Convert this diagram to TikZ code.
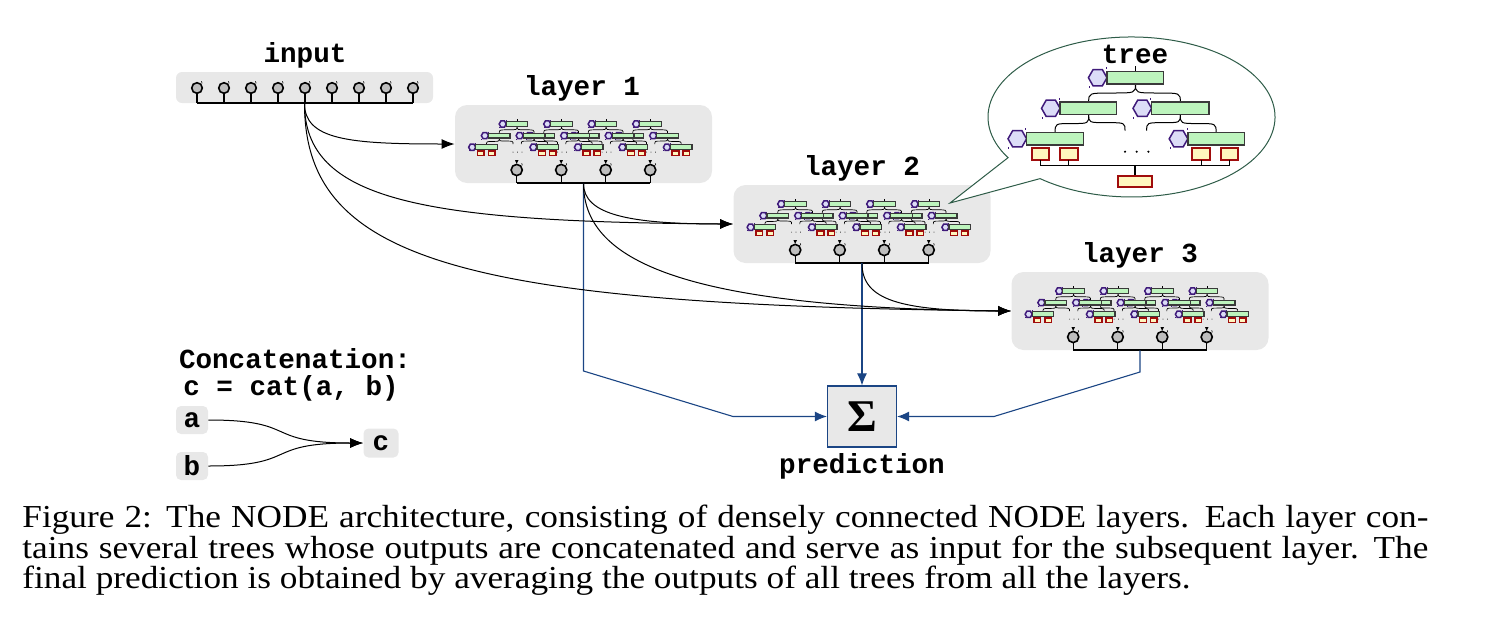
\documentclass[tikz,border=0pt]{standalone}
\usepackage{fontspec}
\setmainfont{Liberation Serif}
\newfontfamily\cour{Liberation Mono}
\usepackage{graphicx}
\usetikzlibrary{arrows.meta}
\definecolor{boxgray}{HTML}{E8E8E8}
\definecolor{hexpurple}{HTML}{3F1A7A}
\definecolor{hexfill}{HTML}{DCDCF7}
\definecolor{bargreen}{HTML}{BDF4BD}
\definecolor{barline}{HTML}{3A3A3A}
\definecolor{leafred}{HTML}{A00C0C}
\definecolor{leaffill}{HTML}{FFF6BE}
\definecolor{sumblue}{HTML}{1B4584}
\definecolor{bubblegreen}{HTML}{2E5C48}
\definecolor{circgray}{HTML}{BEBEBE}
\tikzset{
 lbl/.style={font=\cour\bfseries\fontsize{13.8}{14}\selectfont, inner sep=0pt},
 graybox/.style={fill=boxgray, inner sep=0pt},
 layerbox/.style={graybox, rounded corners=6pt, minimum width=128.5pt, minimum height=39pt},
 smallbox/.style={graybox, rounded corners=2.5pt, font=\cour\bfseries\fontsize{13.8}{14}\selectfont},
 conn/.style={black, line width=0.5pt, -{Latex[length=6.5pt,width=5pt]}},
 sumconn/.style={sumblue, line width=0.55pt, -{Latex[length=6pt,width=5pt]}},
 hexst/.style={draw=hexpurple, fill=hexfill, line width=0.75pt},
 barst/.style={draw=barline, fill=bargreen, line width=0.75pt},
 leafst/.style={draw=leafred, fill=leaffill, line width=0.85pt},
 bracest/.style={black, line width=0.5pt},
 busst/.style={black, line width=0.6pt},
 tickst/.style={hexpurple, line width=0.4pt},
 unitc/.style={draw=black, fill=circgray, line width=0.8pt},
 wire/.style={black, line width=0.55pt},
 ministyle/.style={
   hexst/.style={draw=hexpurple, fill=hexfill, line width=0.75pt},
   barst/.style={draw=barline, fill=bargreen, line width=0.6pt},
   leafst/.style={draw=leafred, fill=leaffill, line width=0.7pt},
   bracest/.style={black, line width=0.35pt},
   tickst/.style={hexpurple, line width=0.25pt}},
}
\newcommand\hexn[2]{%
 \draw[hexst] ({#1-9.3},{#2}) -- ({#1-4.65},{#2-8.1}) -- ({#1+4.65},{#2-8.1}) -- ({#1+9.3},{#2}) -- ({#1+4.65},{#2+8.1}) -- ({#1-4.65},{#2+8.1}) -- cycle;
 \draw[tickst] ({#1+8.5},{#2-10.5}) -- ({#1+8.5},{#2-8.5}) ({#1-8.5},{#2+8.5}) -- ({#1-8.5},{#2+10.5});}
\newcommand\brc[4]{\draw[bracest] (#1,#2) .. controls (#1,{(#2+#4)/2}) .. ({(#1+#3)/2},{(#2+#4)/2}) .. controls (#3,{(#2+#4)/2}) .. (#3,#4);}
\newcommand\treecore{%
 \brc{37.8}{6.3}{-9}{24.3}
 \brc{37.8}{6.3}{82.6}{24.3}
 \brc{-9}{36.9}{27.3}{53}
 \brc{82.6}{36.9}{49}{53}
 \brc{82.6}{36.9}{118.4}{54.8}
 \draw[bracest] (37.8,-6.3) -- (37.8,-12);
 \hexn{0}{0} \draw[barst] (9.3,-6.3) rectangle (65.6,6.3);
 \hexn{-46.9}{30.6} \draw[barst] (-37.6,24.3) rectangle (19,36.9);
 \hexn{44.6}{30.6} \draw[barst] (53.9,24.3) rectangle (111.3,36.9);
 \hexn{80.8}{61.1} \draw[barst] (90.1,54.8) rectangle (146.6,67.4);
 \draw[leafst] (94.6,70.6) rectangle (112.3,82.3) (123.3,70.6) rectangle (140.6,82.3);
 \fill (27.3,74) circle[radius=1.2] (39,74) circle[radius=1.2] (50.7,74) circle[radius=1.2];
}
\newcommand\treeLL{%
 \brc{-9}{36.9}{-42.6}{54.8}
 \hexn{-80.4}{61.1} \draw[barst] (-71.1,54.8) rectangle (-14.4,67.4);
 \draw[leafst] (-66,70.6) rectangle (-48.7,82.3) (-37.7,70.6) rectangle (-20,82.3);
}
\newcommand\treebus{%
 \draw[busst] (-57.35,82.3) -- (-57.35,88) (-28.85,82.3) -- (-28.85,88) (103.45,82.3) -- (103.45,88) (131.95,82.3) -- (131.95,88) (-57.35,88) -- (131.95,88);
 \draw[black, line width=1.1pt] (37.3,88) -- (37.3,98);
 \draw[leafst] (20,98) rectangle (54,109);
}
\newcommand\layertrees[2]{%
 \foreach \i in {3,2,1} {
   \begin{scope}[shift={({#1+47.7+44.5*\i},{#2+19})}, scale=0.38, ministyle]
     \treecore
   \end{scope}}
 \begin{scope}[shift={({#1+47.7},{#2+19})}, scale=0.38, ministyle]
   \treeLL \treecore
 \end{scope}
 \foreach \i in {0,1,2,3} {
   \fill ({#1+61.7+44.5*\i-1.8},{#2+55}) -- ({#1+61.7+44.5*\i+1.8},{#2+55}) -- ({#1+61.7+44.5*\i},{#2+58.8}) -- cycle;
   \draw[wire] ({#1+61.7+44.5*\i},{#2+70.5}) -- ({#1+61.7+44.5*\i},{#2+78});
   \draw[unitc] ({#1+61.7+44.5*\i},{#2+65}) circle[radius=5.6];
   \draw[black, line width=0.3pt] ({#1+61.7+44.5*\i+5},{#2+58.3}) -- ({#1+61.7+44.5*\i+5.6},{#2+60.3});
 }
 \draw[wire] ({#1+61.7},{#2+78}) -- ({#1+195.2},{#2+78});
}
\newlength\capw
\newcommand\capfont{\fontsize{16}{16}\selectfont}
\begin{document}
\settowidth\capw{\capfont final prediction is obtained by averaging the outputs of all trees from all the layers.}
\pgfmathsetmacro\capsx{584/\capw}
\pgfmathsetlengthmacro\capL{703pt/\capsx}
\begin{tikzpicture}[x=0.5pt, y=-0.5pt]
\useasboundingbox (0,0) rectangle (1494,632);
% ---------- input ----------
\node[graybox, rounded corners=3pt, minimum width=128.5pt, minimum height=15.5pt] (IN) at (304.5,87.5) {};
\node[lbl, anchor=base] (inlbl) at (305,62) {input};
\foreach \k in {0,...,8} {
  \draw[wire] ({197+27*\k},93) -- ({197+27*\k},103);
  \draw[unitc] ({197+27*\k},88) circle[radius=5.3];
  \draw[black, line width=0.3pt] ({197+27*\k+4.5},81.3) -- ({197+27*\k+5.1},83.3);
}
\draw[wire] (197,103) -- (413,103);
% ---------- layers ----------
\node[layerbox] (L1) at (583.5,144) {};
\node[layerbox] (L2) at (862,224) {};
\node[layerbox] (L3) at (1140,311) {};
\node[lbl, anchor=base] (l1lbl) at (582,95) {layer 1};
\node[lbl, anchor=base] (l2lbl) at (862,175) {layer 2};
\node[lbl, anchor=base] (l3lbl) at (1140,262) {layer 3};
\layertrees{455}{105}
\layertrees{733.5}{185}
\layertrees{1011.5}{272}
% ---------- sum ----------
\node[draw=sumblue, fill=boxgray, line width=0.6pt, minimum width=34.5pt, minimum height=30.5pt, inner sep=0pt,
  font=\bfseries\fontsize{22.7}{23}\selectfont] (S) at (862,416.5) {Σ};
\node[lbl, anchor=base] (predlbl) at (862,473) {prediction};
\coordinate (b1) at (583.5,371);
\coordinate (b2) at (733,416.5);
\coordinate (b3) at (1140,372);
\coordinate (b4) at (994,416.5);
\draw[sumconn] (L1.south) -- (b1) -- (b2) -- (S.west);
\draw[sumconn] (L2.south) -- (S.north);
\draw[sumconn] (L3.south) -- (b3) -- (b4) -- (S.east);
% ---------- dense connections ----------
\draw[conn] (IN.south) .. controls (304.5,140) and (350,144) .. (L1.west);
\draw[conn] (IN.south) .. controls (304.5,200) and (420,222) .. (L2.west);
\draw[conn] (IN.south) .. controls (304.5,260) and (460,305) .. (L3.west);
\draw[conn] (L1.south) .. controls (583.5,215) and (630,224) .. (L2.west);
\draw[conn] (L1.south) .. controls (583.5,260) and (680,308) .. (L3.west);
\draw[conn] (L2.south) .. controls (862,300) and (900,311) .. (L3.west);
% ---------- tree bubble ----------
\draw[bubblegreen, line width=0.5pt, fill=white] (1008,157.7) arc[start angle=149.4, end angle=489.6, x radius=143.5, y radius=80] -- (950,203) -- cycle;
\node[lbl, anchor=base] (treelbl) at (1135,63) {tree};
\begin{scope}[shift={(1097.7,77.7)}]
  \treeLL \treecore \treebus
\end{scope}
% ---------- concatenation legend ----------
\node[lbl, anchor=base] (ctitle) at (295,368) {Concatenation:};
\node[lbl, anchor=base] (cform) at (291,395) {c = cat(a, b)};
\node[smallbox, minimum width=16pt, minimum height=14pt] (a) at (192,420) {a};
\node[smallbox, minimum width=16pt, minimum height=14pt] (b) at (192,466) {b};
\node[smallbox, minimum width=17.5pt, minimum height=14.5pt] (c) at (381,443) {c};
\draw[conn] (a.east) .. controls (300,420) and (262,443) .. (c.west);
\draw[conn] (b.east) .. controls (300,466) and (262,443) .. (c.west);
% ---------- caption ----------
\node[anchor=base west, inner sep=0pt] (cap1) at (22,527) {\scalebox{\capsx}[1]{\makebox[\capL][s]{\capfont Figure 2: The NODE architecture, consisting of densely connected NODE layers. Each layer con-}}};
\node[anchor=base west, inner sep=0pt] (cap2) at (22,558) {\scalebox{\capsx}[1]{\makebox[\capL][s]{\capfont tains several trees whose outputs are concatenated and serve as input for the subsequent layer. The}}};
\node[anchor=base west, inner sep=0pt] (cap3) at (22,588.5) {\scalebox{\capsx}[1]{\capfont final prediction is obtained by averaging the outputs of all trees from all the layers.}};
\end{tikzpicture}
\end{document}
